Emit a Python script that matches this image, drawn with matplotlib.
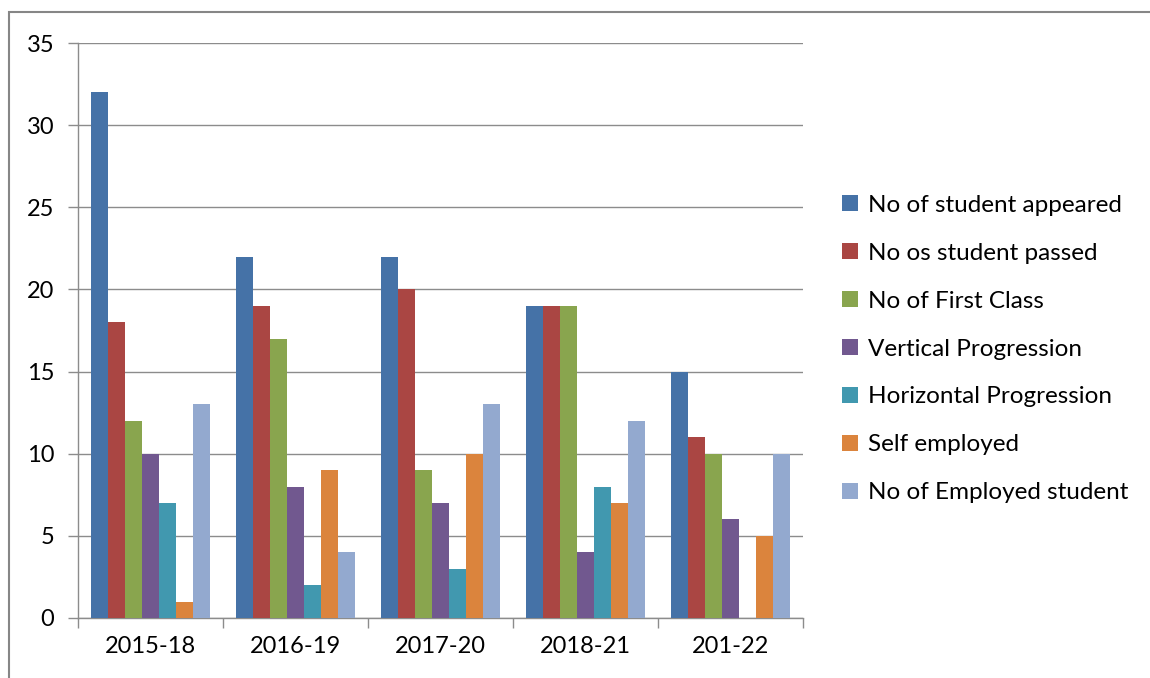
import numpy as np
import matplotlib.pyplot as plt
from matplotlib.patches import Rectangle, Patch

# Data
years = ["2015-18", "2016-19", "2017-20", "2018-21", "201-22"]
appeared = [32, 22, 22, 19, 15]
passed = [18, 19, 20, 19, 11]
first_class = [12, 17, 9, 19, 10]
vertical = [10, 8, 7, 4, 6]
horizontal = [7, 2, 3, 8, 0]
self_employed = [1, 9, 10, 7, 5]
employed = [13, 4, 13, 12, 10]

labels = ["No of student appeared", "No os student passed", "No of First Class",
          "Vertical Progression", "Horizontal Progression", "Self employed",
          "No of Employed student"]
colors = ["#4572A7", "#AA4643", "#89A54E", "#71588F", "#4198AF", "#DB843D", "#93A9CF"]
series = [appeared, passed, first_class, vertical, horizontal, self_employed, employed]

plt.rcParams['font.family'] = ['Lato', 'DejaVu Sans']

fig = plt.figure(figsize=(11.5, 6.78), dpi=100)
W, H = 1150, 678
ax = fig.add_axes([78 / W, 1 - 618 / H, (803 - 78) / W, (618 - 43) / H])

# outer chart border
fig.patches.append(Rectangle((9 / W, -0.05), 1.1, 1 - 12 / H + 0.05, transform=fig.transFigure,
                             fill=False, edgecolor="#868686", linewidth=1.5))

x = np.arange(len(years))
bw = 0.117
for i, (vals, lab, col) in enumerate(zip(series, labels, colors)):
    ax.bar(x + (i - 3) * bw, vals, width=bw, color=col, label=lab, zorder=3)

ax.set_xlim(-0.5, len(years) - 0.5)
ax.set_ylim(0, 35)
ax.set_yticks(range(0, 36, 5))
ax.yaxis.grid(True, color="#8C8C8C", linewidth=1, zorder=0)
ax.set_xticks(x)
ax.set_xticklabels(years)
ax.set_xticks(np.arange(-0.5, len(years), 1), minor=True)
ax.tick_params(axis='x', which='major', length=0, pad=13, labelsize=17)
ax.tick_params(axis='x', which='minor', length=7, color="#8C8C8C", width=1)
ax.tick_params(axis='y', length=7, color="#8C8C8C", width=1, labelsize=17, pad=10)
for s in ["top", "right"]:
    ax.spines[s].set_visible(False)
for s in ["left", "bottom"]:
    ax.spines[s].set_color("#8C8C8C")
    ax.spines[s].set_linewidth(1)

handles = [Patch(facecolor=c, label=l) for c, l in zip(colors, labels)]
fig.legend(handles=handles, loc="center left", bbox_to_anchor=(842 / W, 1 - 349 / H),
           frameon=False, fontsize=17.5, handlelength=0.65, handleheight=0.65,
           handletextpad=0.4, labelspacing=1.11, borderaxespad=0, borderpad=0)

fig.savefig("out.png", dpi=100)
